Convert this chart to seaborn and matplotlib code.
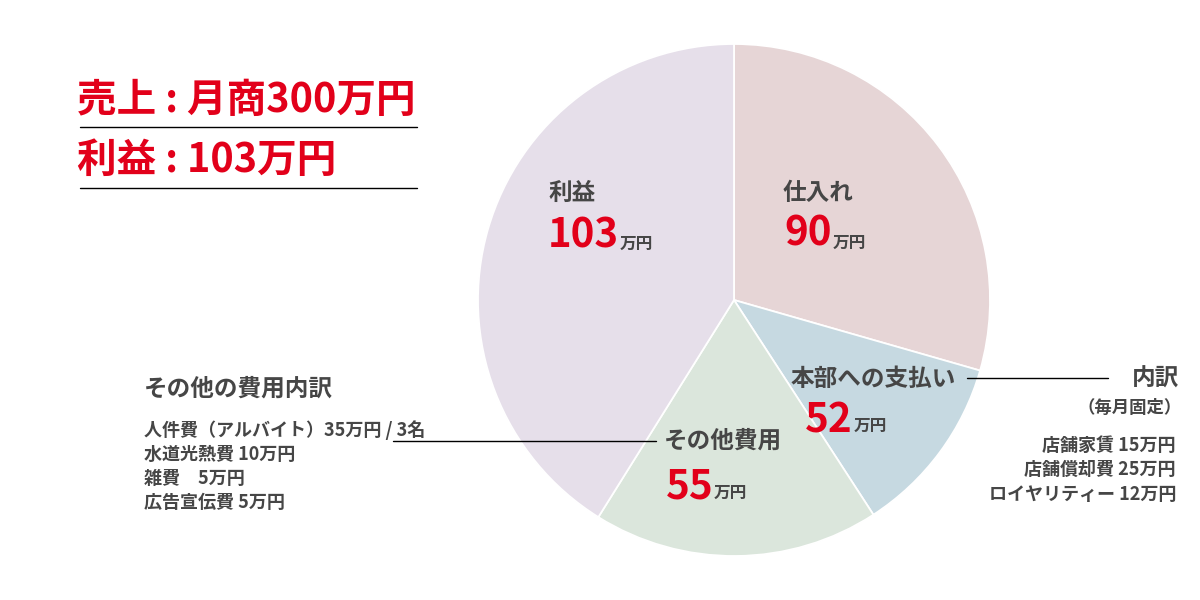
import matplotlib
matplotlib.use("Agg")
import matplotlib.pyplot as plt
import seaborn as sns

# ---- data ----
categories = ["仕入れ", "本部への支払い", "その他費用", "利益"]
amounts = [90, 52, 55, 103]              # 万円 (labels)
slice_shares = [106, 41, 65, 148]        # drawn slice sizes (degrees, as in picture)
slice_colors = ["#e6d5d6", "#c6d9e1", "#dbe6dc", "#e6dfea"]

title_lines = ["売上 : 月商300万円", "利益 : 103万円"]
other_title = "その他の費用内訳"
other_items = ["人件費（アルバイト）35万円 / 3名", "水道光熱費 10万円", "雑費　5万円", "広告宣伝費 5万円"]
hq_title = "内訳"
hq_sub = "（毎月固定）"
hq_items = ["店舗家賃 15万円", "店舗償却費 25万円", "ロイヤリティー 12万円"]
unit = "万円"

sns.set_theme(style="white")
plt.rcParams['font.family'] = ['Noto Sans CJK JP', 'DejaVu Sans']

RED = "#e2001a"
GRAY = "#464646"

fig = plt.figure(figsize=(12, 6), dpi=100)
ax = fig.add_axes([0, 0, 1, 1])

H = 600
def Y(y):
    return H - y

ax.pie(slice_shares, colors=slice_colors, startangle=90, counterclock=False,
       center=(734, Y(300)), radius=256,
       wedgeprops=dict(edgecolor="white", linewidth=1.3))
ax.set_xlim(0, 1200)
ax.set_ylim(0, 600)
ax.set_aspect('equal')
ax.axis('off')

# Titles
ax.text(77, Y(100), title_lines[0], color=RED, fontsize=28.5, fontweight='bold', va='center', ha='left')
ax.text(77, Y(160), title_lines[1], color=RED, fontsize=28.5, fontweight='bold', va='center', ha='left')
ax.plot([80, 417], [Y(127), Y(127)], color="black", lw=1.0)
ax.plot([80, 417], [Y(188), Y(188)], color="black", lw=1.0)

# slice labels: (name x, name y, num x, num y, unit x, unit y)
label_pos = [
    (783, 193, 784, 234, 833, 243),
    (791, 379, 805, 421, 854, 426),
    (664, 441, 666, 487, 714, 493),
    (548, 193, 548, 236, 620, 244),
]
for cat, amt, (nx, ny, vx, vy, ux, uy) in zip(categories, amounts, label_pos):
    ax.text(nx, Y(ny), cat, color=GRAY, fontsize=17, fontweight='bold', va='center', ha='left')
    ax.text(vx, Y(vy), str(amt), color=RED, fontsize=29, fontweight='bold', va='center', ha='left')
    ax.text(ux, Y(uy), unit, color=GRAY, fontsize=12, fontweight='bold', va='center', ha='left')

# leader lines
ax.plot([967, 1108], [Y(378), Y(378)], color="black", lw=1.0)
ax.plot([393, 656], [Y(441), Y(441)], color="black", lw=1.0)

# left block
ax.text(144, Y(389), other_title, color=GRAY, fontsize=17, fontweight='bold', va='center', ha='left')
for i, s in enumerate(other_items):
    ax.text(144, Y(430 + 24 * i), s, color=GRAY, fontsize=13, fontweight='bold', va='center', ha='left')

# right block
ax.text(1179, Y(379), hq_title, color=GRAY, fontsize=17, fontweight='bold', va='center', ha='right')
ax.text(1182, Y(408), hq_sub, color=GRAY, fontsize=12.5, fontweight='bold', va='center', ha='right')
for i, s in enumerate(hq_items):
    ax.text(1176, Y(445 + 24.5 * i), s, color=GRAY, fontsize=13, fontweight='bold', va='center', ha='right')

fig.savefig("out.png", dpi=100, facecolor="white")
